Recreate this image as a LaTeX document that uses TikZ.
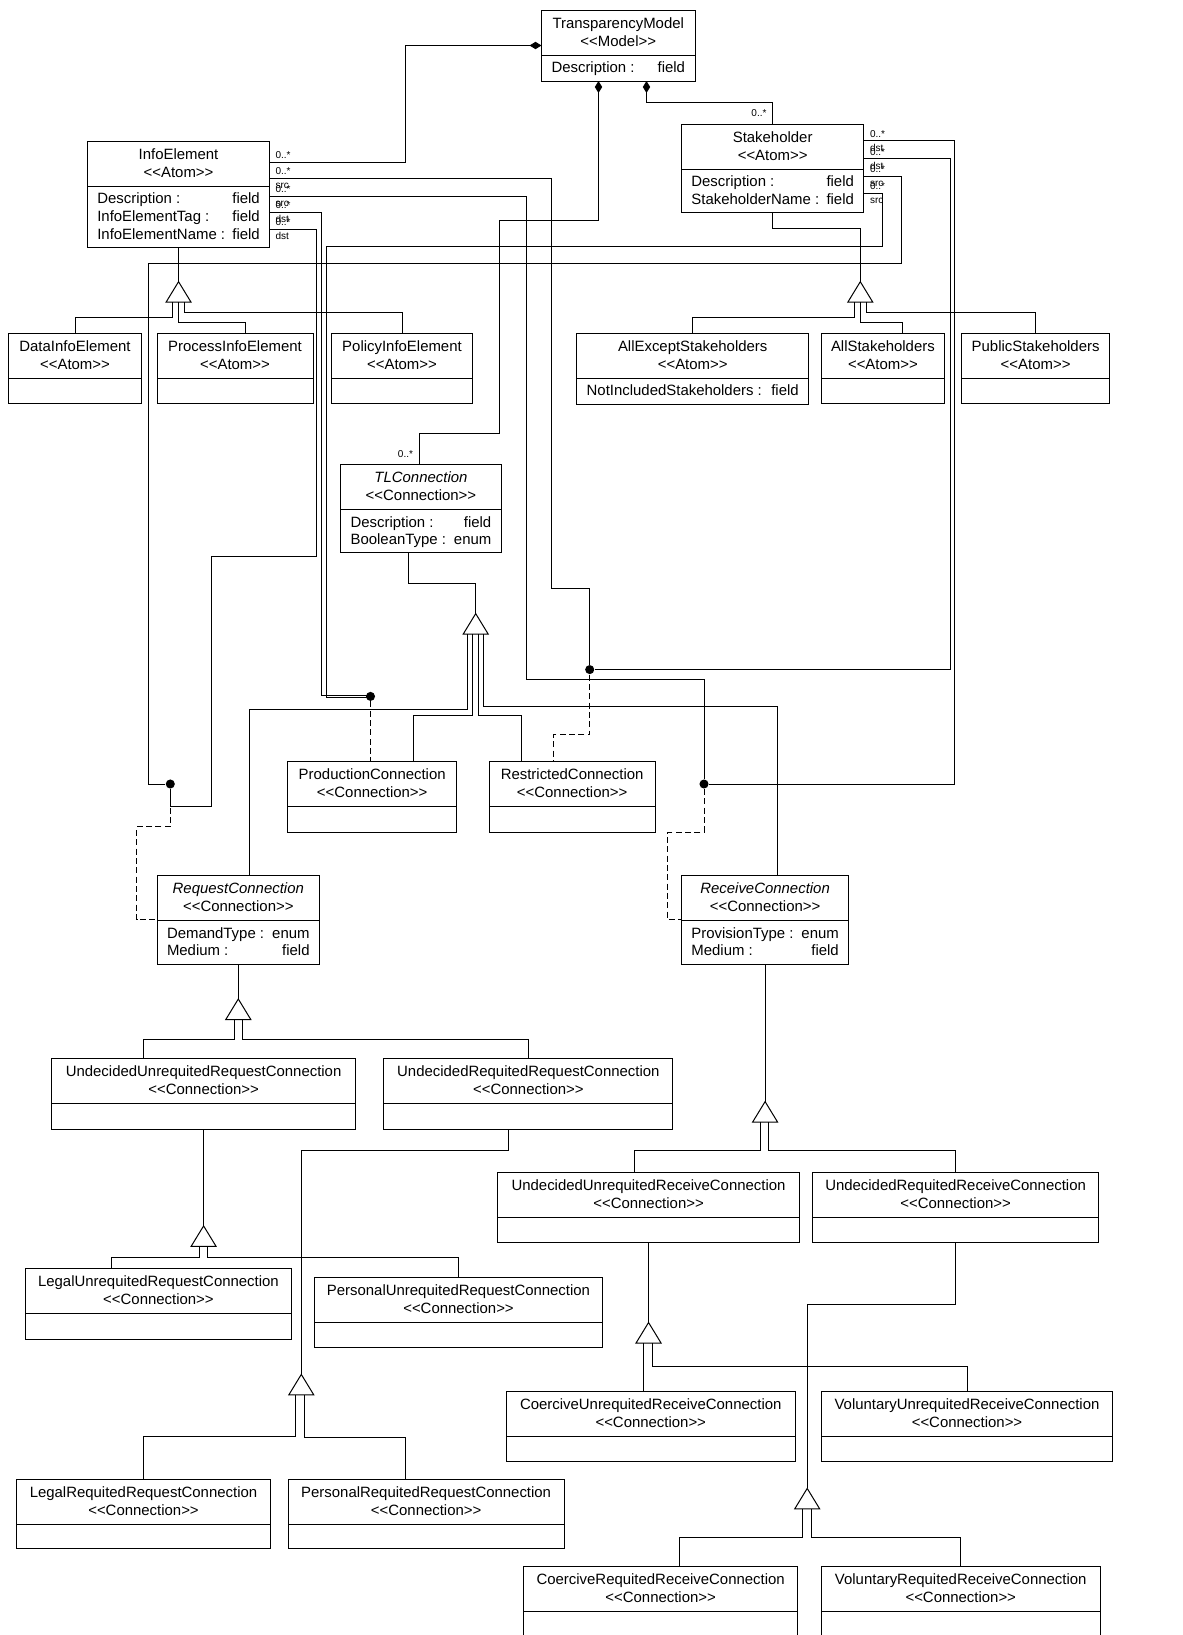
\documentclass[tikz,border=0pt]{standalone}
\usepackage{fontspec}
\setmainfont{Liberation Sans}
\usetikzlibrary{arrows.meta,calc}

\tikzset{every picture/.style={line width=0.75pt}}
\tikzset{
  classbox/.style={draw, rectangle, fill=white, inner sep=0pt, outer sep=0pt},
  clstext/.style={inner sep=0pt, font=\fontsize{11.2}{13.5}\selectfont},
  multlabel/.style={inner sep=0pt, font=\fontsize{7.5}{9}\selectfont},
  comp/.style={{Diamond[length=9pt,width=5.5pt]}-},
  joint/.style={circle, fill=black, inner sep=0pt, minimum size=6.8pt},
  dep/.style={dash pattern=on 4.5pt off 2.5pt},
}

\newcommand{\stereo}[1]{<\kern0pt<#1>\kern0pt>}
% [title font] name, x1, y1, x2, y2, title, stereotype
\newcommand{\umlclass}[8][]{%
  \node[classbox, minimum width={(#5-#3)*0.75pt}, minimum height={(#6-#4)*0.75pt}] (#2) at ({(#3+#5)/2},{(#4+#6)/2}) {};
  \draw (#3,{#4+45}) -- (#5,{#4+45});
  \node[clstext, anchor=base] (#2-name) at ({(#3+#5)/2},{#4+18}) {#1#7};
  \node[clstext, anchor=base] (#2-st) at ({(#3+#5)/2},{#4+36}) {\stereo{#8}};
}
% box, row, attribute, type
\newcommand{\umlattr}[4]{%
  \node[clstext, anchor=base west] (#1-a#2) at ($(#1.north west)+(9.5,{62.5+17.7*#2})$) {#3};
  \node[clstext, anchor=base east] (#1-t#2) at ($(#1.north east)+(-9.5,{62.5+17.7*#2})$) {#4};
}
\newcommand{\gentri}[1]{\draw[fill=white] (#1) -- ++(-12.5,20.5) -- ++(25,0) -- cycle;}

\begin{document}
\begin{tikzpicture}[x=0.75pt,y=0.75pt,yscale=-1,xscale=1]
        \fill[white] (0,0) rectangle (1182,1635);
        \useasboundingbox (0,0) rectangle (1182,1635);

        % classes
        \umlclass{TM}{541.5}{10}{695}{81}{TransparencyModel}{Model}
        \umlattr{TM}{0}{Description :}{field}
        \umlclass{IE}{87.3}{141.3}{269.8}{247}{InfoElement}{Atom}
        \umlattr{IE}{0}{Description :}{field}
        \umlattr{IE}{1}{InfoElementTag :}{field}
        \umlattr{IE}{2}{InfoElementName :}{field}
        \umlclass{SH}{681.4}{124}{863.9}{212}{Stakeholder}{Atom}
        \umlattr{SH}{0}{Description :}{field}
        \umlattr{SH}{1}{StakeholderName :}{field}

        \umlclass{DIE}{8.4}{333.3}{141.6}{403.3}{DataInfoElement}{Atom}
        \umlclass{PIE}{157}{333.3}{313}{403.3}{ProcessInfoElement}{Atom}
        \umlclass{LIE}{331.4}{333.3}{472.6}{403.3}{PolicyInfoElement}{Atom}
        \umlclass{AES}{576.7}{333.3}{808.7}{404.3}{AllExceptStakeholders}{Atom}
        \umlattr{AES}{0}{NotIncludedStakeholders :}{field}
        \umlclass{ALS}{821}{333.3}{944.8}{403.3}{AllStakeholders}{Atom}
        \umlclass{PBS}{961.4}{333.3}{1109.8}{403.3}{PublicStakeholders}{Atom}

        \umlclass[\itshape]{TL}{340.6}{464.6}{501.3}{552.9}{TLConnection}{Connection}
        \umlattr{TL}{0}{Description :}{field}
        \umlattr{TL}{1}{BooleanType :}{enum}
        \umlclass{PC}{287.8}{761.8}{456.6}{832.1}{ProductionConnection}{Connection}
        \umlclass{RC}{489.1}{761.8}{655.2}{832.1}{RestrictedConnection}{Connection}
        \umlclass[\itshape]{RQ}{157}{875.7}{319.6}{964}{RequestConnection}{Connection}
        \umlattr{RQ}{0}{DemandType :}{enum}
        \umlattr{RQ}{1}{Medium :}{field}
        \umlclass[\itshape]{RV}{681.4}{875.7}{848.8}{964}{ReceiveConnection}{Connection}
        \umlattr{RV}{0}{ProvisionType :}{enum}
        \umlattr{RV}{1}{Medium :}{field}

        \umlclass{UURQ}{51.8}{1058.8}{355.4}{1129.3}{UndecidedUnrequitedRequestConnection}{Connection}
        \umlclass{URRQ}{383.9}{1058.8}{672.8}{1129.3}{UndecidedRequitedRequestConnection}{Connection}
        \umlclass{LURQ}{25.4}{1268.9}{291.5}{1339}{LegalUnrequitedRequestConnection}{Connection}
        \umlclass{PURQ}{314.3}{1277.8}{602.7}{1347.4}{PersonalUnrequitedRequestConnection}{Connection}
        \umlclass{LRRQ}{16.5}{1479}{270.5}{1548.6}{LegalRequitedRequestConnection}{Connection}
        \umlclass{PRRQ}{288}{1479}{564.3}{1548.6}{PersonalRequitedRequestConnection}{Connection}
        \umlclass{UURV}{497.9}{1172.7}{799.2}{1242.7}{UndecidedUnrequitedReceiveConnection}{Connection}
        \umlclass{URRV}{812.6}{1172.7}{1098.6}{1242.7}{UndecidedRequitedReceiveConnection}{Connection}
        \umlclass{CURV}{506.4}{1391.8}{795.1}{1461}{CoerciveUnrequitedReceiveConnection}{Connection}
        \umlclass{VURV}{821.5}{1391.8}{1112.5}{1461}{VoluntaryUnrequitedReceiveConnection}{Connection}
        \umlclass{CRRV}{523.9}{1566.2}{797.4}{1640}{CoerciveRequitedReceiveConnection}{Connection}
        \umlclass{VRRV}{821.5}{1566.2}{1100}{1640}{VoluntaryRequitedReceiveConnection}{Connection}

        % compositions
        \draw[comp] (TM.west) -| (405.7,162.3) -- (IE.east |- 0,162.3);
        \draw[comp] (598.5,0 |- TM.south) |- (499.4,220.7) |- (419,433.2) -- (419,0 |- TL.north);
        \draw[comp] (646.5,0 |- TM.south) |- (SH.north |- 0,102.3) -- (SH.north);
        \node[multlabel, anchor=base east] (sh-m0) at (767,116.3) {0..*};
        \node[multlabel, anchor=base east] (tl-m0) at (413.5,457.2) {0..*};
        \node[multlabel, anchor=base west] (ie-m1) at (275,158.9) {0..*};

        % joints
        \node[joint] (dotQ) at (170.3,784) {};
        \node[joint] (dotP) at (370.5,696.4) {};
        \node[joint] (dotR) at (589.7,669.6) {};
        \node[joint] (dotV) at (704,784) {};

        % associations
        \draw (IE.east |- 0,178.3) -| (551.1,588.2) -| (dotR);
        \draw (IE.east |- 0,196) -| (526.6,679.3) -| (dotV);
        \draw (IE.east |- 0,212.3) -| (321.5,695) -- (dotP |- 0,695);
        \draw (IE.east |- 0,229.3) -| (316.9,556) -| (211.6,806.4) -| (dotQ);
        \draw (SH.east |- 0,140.7) -| (954.7,784) -- (dotV);
        \draw (SH.east |- 0,158.7) -| (950,669.6) -- (dotR);
        \draw (SH.east |- 0,176) -| (901.1,263.5) -| (148.5,784) -- (dotQ);
        \draw (SH.east |- 0,193.3) -| (882.5,246) -| (326,697.5) -- (dotP |- 0,697.5);
        \foreach \y/\r [count=\i from 2] in {178.3/src,196/src,212.3/dst,229.3/dst}{
          \node[multlabel, anchor=base west] (ie-m\i) at (275,\y-3.4) {0..*};
          \node[multlabel, anchor=base west] (ie-r\i) at (275,\y+10.5) {\r};
        }
        \foreach \y/\r [count=\i] in {140.7/dst,158.7/dst,176/src,193.3/src}{
          \node[multlabel, anchor=base west] (sh-m\i) at (869.5,\y-3.4) {0..*};
          \node[multlabel, anchor=base west] (sh-r\i) at (869.5,\y+10.5) {\r};
        }

        % dependencies
        \draw[dep] (dotP) -- (dotP |- PC.north);
        \draw[dep] (dotR) |- (553.8,734.6) -- (553.8,0 |- RC.north);
        \draw[dep] (dotQ) |- (136.6,826.8) |- (RQ.west);
        \draw[dep] (dotV) |- (667.9,832.1) |- (RV.west);

        % generalizations
        \coordinate (ieGen) at ($(IE.south)+(0,34.7)$);
        \draw (IE.south) -- (ieGen);
        \gentri{ieGen}
        \draw ($(ieGen)+(-6,20.5)$) -- ++(0,15.5) -| (DIE.north);
        \draw ($(ieGen)+(0,20.5)$) -- ++(0,20.1) -| (245.3,0 |- PIE.north);
        \draw ($(ieGen)+(6.3,20.5)$) -- ++(0,10.1) -| (LIE.north);

        \coordinate (shGen) at (860.3,281.7);
        \draw (SH.south) |- (860.3,228.3) -- (shGen);
        \gentri{shGen}
        \draw ($(shGen)+(-6.3,20.5)$) -- ++(0,15.5) -| (AES.north);
        \draw ($(shGen)+(0,20.5)$) -- ++(0,20.1) -| (902.3,0 |- ALS.north);
        \draw ($(shGen)+(6.3,20.5)$) -- ++(0,10.1) -| (PBS.north);

        \coordinate (tlGen) at (475.7,613.6);
        \draw (408,0 |- TL.south) |- (475.7,583.2) -- (tlGen);
        \gentri{tlGen}
        \draw ($(tlGen)+(-8,20.5)$) |- (249.1,709.3) -- (249.1,0 |- RQ.north);
        \draw ($(tlGen)+(-3.1,20.5)$) |- (413,715.7) -- (413,0 |- PC.north);
        \draw ($(tlGen)+(2.3,20.5)$) |- (521.2,715.7) -- (521.2,0 |- RC.north);
        \draw ($(tlGen)+(7.7,20.5)$) |- (777.4,706.4) -- (777.4,0 |- RV.north);

        \coordinate (rqGen) at ($(RQ.south)+(0,35)$);
        \draw (RQ.south) -- (rqGen);
        \gentri{rqGen}
        \draw ($(rqGen)+(-4,20.5)$) -- ++(0,20.2) -| (143.3,0 |- UURQ.north);
        \draw ($(rqGen)+(4,20.5)$) -- ++(0,20.2) -| (URRQ.north);

        \coordinate (uurqGen) at ($(UURQ.south)+(0,96.6)$);
        \draw (UURQ.south) -- (uurqGen);
        \gentri{uurqGen}
        \draw ($(uurqGen)+(-4.5,20.5)$) -- ++(0,11) -| (111.6,0 |- LURQ.north);
        \draw ($(uurqGen)+(4,20.5)$) -- ++(0,11) -| (PURQ.north);

        \coordinate (urrqGen) at (301.3,1374.4);
        \draw (508.9,0 |- URRQ.south) |- (301.3,1150.1) -- (urrqGen);
        \gentri{urrqGen}
        \draw ($(urrqGen)+(-5.5,20.5)$) -- ++(0,41.5) -| (LRRQ.north);
        \draw ($(urrqGen)+(3,20.5)$) -- ++(0,43) -| (405.4,0 |- PRRQ.north);

        \coordinate (rvGen) at ($(RV.south)+(0,137.6)$);
        \draw (RV.south) -- (rvGen);
        \gentri{rvGen}
        \draw ($(rvGen)+(-4.7,20.5)$) -- ++(0,28.4) -| (634,0 |- UURV.north);
        \draw ($(rvGen)+(3.3,20.5)$) -- ++(0,28.4) -| (URRV.north);

        \coordinate (uurvGen) at ($(UURV.south)+(0,79.8)$);
        \draw (UURV.south) -- (uurvGen);
        \gentri{uurvGen}
        \draw ($(uurvGen)+(-4.9,20.5)$) -- ($(uurvGen |- CURV.north)+(-4.9,0)$);
        \draw ($(uurvGen)+(3.6,20.5)$) -- ++(0,23.2) -| (VURV.north);

        \coordinate (urrvGen) at (807.2,1488.4);
        \draw (URRV.south) |- (807.2,1304.1) -- (urrvGen);
        \gentri{urrvGen}
        \draw ($(urrvGen)+(-4.9,20.5)$) -- ++(0,28.6) -| (679.6,0 |- CRRV.north);
        \draw ($(urrvGen)+(4.1,20.5)$) -- ++(0,28.6) -| (VRRV.north);
\end{tikzpicture}
\end{document}
